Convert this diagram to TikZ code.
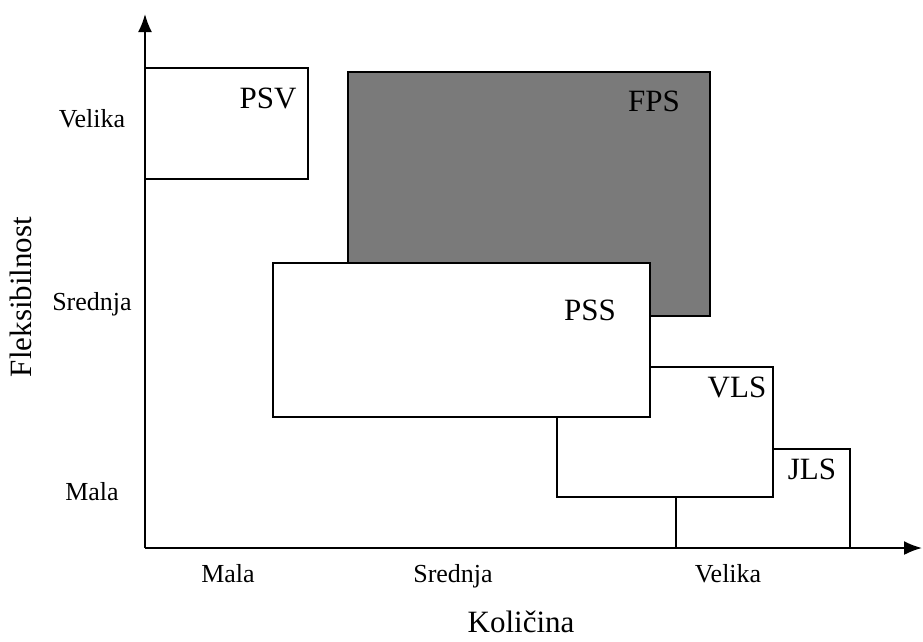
\documentclass[tikz,border=0pt]{standalone}
\usepackage{fontspec}
\setmainfont{Liberation Serif}
\usetikzlibrary{arrows.meta}
\begin{document}
\begin{tikzpicture}[x=1pt,y=-1pt,line width=1.9pt,
    zone/.style={draw=black,fill=white},
    zonelabel/.style={font=\fontsize{31}{31}\selectfont,inner sep=0pt,anchor=base},
    axislabel/.style={font=\fontsize{26}{26}\selectfont,inner sep=0pt,anchor=base},
    axistitle/.style={font=\fontsize{31}{31}\selectfont,inner sep=0pt}]
    \useasboundingbox (0,0) rectangle (923,641);

    % osi
    \coordinate (o) at (145,548);
    \coordinate (ytop) at (145,14);
    \coordinate (xend) at (922,548);

    % podrucja (crta se odozdo prema gore)
    \draw[zone] (676,449) rectangle (850,548);
    \draw[zone] (557,367) rectangle (773,497);
    \draw[draw=black,fill=black!52] (348,72) rectangle (710,316);
    \draw[zone] (273,263) rectangle (650,417);
    \draw[zone] (145,68) rectangle (308,179);

    \draw[-{Latex[length=18pt,width=14pt]}] (o) -- (ytop);
    \draw[-{Latex[length=18pt,width=14pt]}] (o) -- (xend);

    \node[zonelabel] (psv) at (268,108) {PSV};
    \node[zonelabel] (fps) at (654,111) {FPS};
    \node[zonelabel] (pss) at (590,320) {PSS};
    \node[zonelabel] (vls) at (737,397) {VLS};
    \node[zonelabel] (jls) at (812,479) {JLS};

    \foreach \name/\y/\txt in {yv/127/Velika,ys/310/Srednja,ym/500/Mala} {
        \node[axislabel] (\name) at (92,\y) {\txt};
    }
    \foreach \name/\x/\txt in {xm/228/Mala,xs/453/Srednja,xv/728/Velika} {
        \node[axislabel] (\name) at (\x,582) {\txt};
    }

    \node[axistitle,anchor=base] (kol) at (521,632) {Količina};
    \node[axistitle,rotate=90] (fleks) at (21,297) {Fleksibilnost};
\end{tikzpicture}
\end{document}
